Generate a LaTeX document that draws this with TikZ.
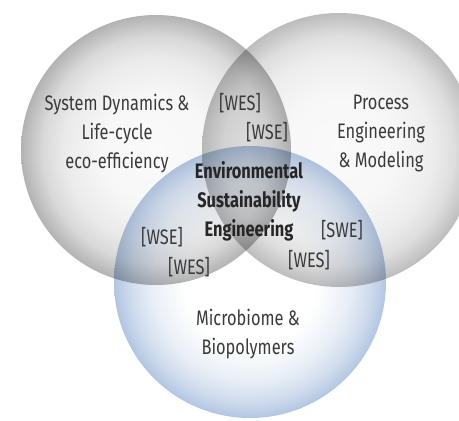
\documentclass[tikz,border=0pt]{standalone}
\usepackage{fontspec}
\setmainfont[FakeStretch=0.78]{Fira Sans}
\usetikzlibrary{shadings}
\pgfdeclareradialshading{graysph}{\pgfpoint{0bp}{0bp}}{color(0bp)=(white!98!black); color(10bp)=(white!97!black); color(17bp)=(black!8); color(21bp)=(black!15); color(25bp)=(black!30); color(50bp)=(black!30)}
\pgfdeclareradialshading{graysphlight}{\pgfpoint{0bp}{0bp}}{color(0bp)=(white!98!black); color(10bp)=(white!97!black); color(17bp)=(black!7); color(21bp)=(black!13); color(25bp)=(black!26); color(50bp)=(black!26)}
\definecolor{rimblue}{HTML}{B2C6E2}
\pgfdeclareradialshading{bluesph}{\pgfpoint{0bp}{0bp}}{color(0bp)=(white); color(12bp)=(white); color(18bp)=(rimblue!28); color(22bp)=(rimblue!62); color(25bp)=(rimblue); color(50bp)=(rimblue)}
\definecolor{txt}{HTML}{3A3A3A}
\tikzset{
  lbl/.style={font=\fontsize{21}{29}\selectfont, text=txt, align=center, inner sep=0pt},
  core/.style={font=\fontsize{21}{29}\selectfont\bfseries, text=black!85, align=center, inner sep=0pt},
  tag/.style={font=\fontsize{21}{29}\selectfont, text=txt, inner sep=0pt},
  sph/.style={blend mode=multiply}
}
\begin{document}
\begin{tikzpicture}[x=1pt,y=-1pt]
\useasboundingbox (0,0) rectangle (459,421);
\shade[sph, shading=bluesph] (250,282) circle (136);
\shade[sph, shading=graysph] (156,150) circle (135);
\shade[sph, shading=graysphlight] (339,150) circle (137);
\node[lbl] (sd) at (117,134) {System Dynamics \&\\Life-cycle\\eco-efficiency};
\node[lbl] (pe) at (381,133) {Process\\Engineering\\\& Modeling};
\node[core] (ese) at (249,201) {Environmental\\Sustainability\\Engineering};
\node[lbl] (mb) at (248,334) {Microbiome \&\\Biopolymers};
\node[tag] (t1) at (240,103) {[WES]};
\node[tag] (t2) at (267,132) {[WSE]};
\node[tag] (t3) at (162,237) {[WSE]};
\node[tag] (t4) at (189,267) {[WES]};
\node[tag] (t5) at (342,230) {[SWE]};
\node[tag] (t6) at (309,260) {[WES]};
\end{tikzpicture}
\end{document}
